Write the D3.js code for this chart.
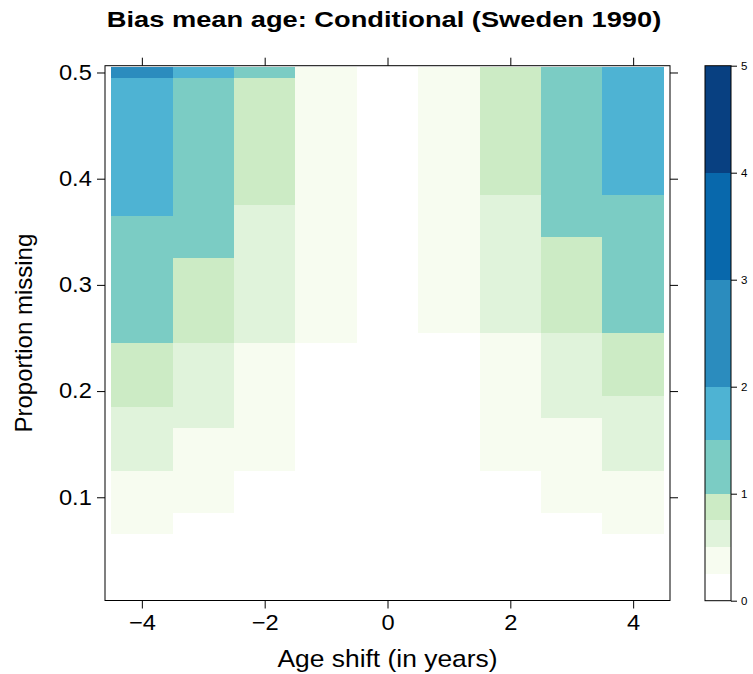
<!DOCTYPE html>
<html>
<head>
<meta charset="utf-8">
<script src="https://cdn.jsdelivr.net/npm/d3@7"></script>
<style>
  body { margin: 0; background: #fff; }
  text { font-family: "Liberation Sans", Arial, sans-serif; fill: #000; }
</style>
</head>
<body>
<div id="chart"></div>
<script>
// Age shifts (columns) and proportion missing (rows, top to bottom).
var ageShifts = [-4, -3, -2, -1, 0, 1, 2, 3, 4];
var proportions = [0.50, 0.49, 0.48, 0.47, 0.46, 0.45, 0.44, 0.43, 0.42, 0.41,
                   0.40, 0.39, 0.38, 0.37, 0.36, 0.35, 0.34, 0.33, 0.32, 0.31,
                   0.30, 0.29, 0.28, 0.27, 0.26, 0.25, 0.24, 0.23, 0.22, 0.21,
                   0.20, 0.19, 0.18, 0.17, 0.16, 0.15, 0.14, 0.13, 0.12, 0.11,
                   0.10, 0.09, 0.08, 0.07, 0.06, 0.05, 0.04, 0.03, 0.02, 0.01];

// Bias of the mean age, one array per age shift, same row order as proportions.
var biasShiftM4 = [2.06,
  1.97, 1.93, 1.89, 1.85, 1.81, 1.77, 1.73, 1.69, 1.65, 1.61, 1.58, 1.55, 1.52,
  1.47, 1.43, 1.39, 1.35, 1.31, 1.27, 1.23, 1.19, 1.15, 1.11, 1.07, 1.03,
  0.98, 0.94, 0.90, 0.86, 0.82, 0.78,
  0.73, 0.69, 0.65, 0.61, 0.57, 0.53,
  0.48, 0.44, 0.40, 0.36, 0.32, 0.28,
  0.23, 0.19, 0.15, 0.11, 0.07, 0.03];
var biasShiftM3 = [1.55,
  1.48, 1.45, 1.42, 1.39, 1.36, 1.33, 1.30, 1.27, 1.24, 1.21, 1.18, 1.15, 1.12, 1.09, 1.06, 1.04, 1.02,
  0.98, 0.95, 0.92, 0.89, 0.86, 0.83, 0.80, 0.77,
  0.73, 0.70, 0.67, 0.64, 0.61, 0.58, 0.55, 0.52,
  0.48, 0.45, 0.42, 0.39, 0.36, 0.33, 0.30, 0.27,
  0.23, 0.20, 0.17, 0.14, 0.11, 0.08, 0.05, 0.02];
var biasShiftM2 = [1.02,
  0.99, 0.97, 0.95, 0.93, 0.91, 0.89, 0.87, 0.85, 0.83, 0.81, 0.79, 0.77,
  0.74, 0.72, 0.70, 0.68, 0.66, 0.64, 0.62, 0.60, 0.58, 0.56, 0.54, 0.52, 0.51,
  0.48, 0.46, 0.44, 0.42, 0.40, 0.38, 0.36, 0.34, 0.32, 0.30, 0.28, 0.26,
  0.24, 0.22, 0.20, 0.18, 0.16, 0.14, 0.12, 0.10, 0.08, 0.06, 0.04, 0.02];
var biasShiftM1 = [0.49, 0.48, 0.47, 0.46, 0.45, 0.44, 0.43, 0.42, 0.41, 0.40,
  0.39, 0.38, 0.37, 0.36, 0.35, 0.34, 0.33, 0.32, 0.31, 0.30,
  0.29, 0.28, 0.27, 0.27, 0.26, 0.26,
  0.24, 0.23, 0.22, 0.21, 0.20, 0.19, 0.18, 0.17, 0.16, 0.15, 0.14, 0.13,
  0.12, 0.11, 0.10, 0.09, 0.08, 0.07, 0.06, 0.05, 0.04, 0.03, 0.02, 0.01];
var biasShift0 = [0.05, 0.05, 0.04, 0.04, 0.04, 0.04, 0.03, 0.03, 0.03, 0.03,
  0.03, 0.03, 0.02, 0.02, 0.02, 0.02, 0.02, 0.02, 0.02, 0.02,
  0.02, 0.01, 0.01, 0.01, 0.01, 0.01, 0.01, 0.01, 0.01, 0.01,
  0.01, 0.01, 0.01, 0.01, 0.01, 0.00, 0.00, 0.00, 0.00, 0.00,
  0.00, 0.00, 0.00, 0.00, 0.00, 0.00, 0.00, 0.00, 0.00, 0.00];
var biasShiftP1 = [0.47, 0.46, 0.45, 0.44, 0.43, 0.42, 0.41, 0.40, 0.39, 0.38,
  0.37, 0.36, 0.35, 0.34, 0.33, 0.32, 0.31, 0.30, 0.29, 0.29,
  0.28, 0.28, 0.27, 0.26, 0.26,
  0.24, 0.23, 0.22, 0.21, 0.20, 0.19, 0.18, 0.17, 0.16, 0.15, 0.14, 0.13,
  0.12, 0.11, 0.10, 0.09, 0.08, 0.07, 0.06, 0.05, 0.04, 0.03, 0.02, 0.02, 0.01];
var biasShiftP2 = [0.96, 0.94, 0.92, 0.90, 0.88, 0.86, 0.84, 0.83, 0.81, 0.79, 0.78, 0.76,
  0.74, 0.72, 0.70, 0.68, 0.66, 0.64, 0.62, 0.60, 0.58, 0.56, 0.54, 0.52, 0.51,
  0.49, 0.47, 0.45, 0.43, 0.41, 0.39, 0.37, 0.35, 0.33, 0.31, 0.29, 0.27, 0.26,
  0.24, 0.22, 0.20, 0.18, 0.16, 0.14, 0.12, 0.10, 0.08, 0.06, 0.04, 0.02];
var biasShiftP3 = [1.42, 1.39, 1.36, 1.33, 1.30, 1.27, 1.24, 1.21, 1.18, 1.15, 1.12, 1.10, 1.08, 1.06, 1.04, 1.02,
  0.98, 0.95, 0.92, 0.89, 0.86, 0.83, 0.81, 0.79, 0.77,
  0.73, 0.70, 0.67, 0.64, 0.61, 0.58, 0.55, 0.52,
  0.48, 0.45, 0.42, 0.39, 0.36, 0.33, 0.30, 0.28, 0.26,
  0.23, 0.20, 0.17, 0.14, 0.11, 0.08, 0.05, 0.02];
var biasShiftP4 = [1.88, 1.84, 1.80, 1.76, 1.72, 1.68, 1.64, 1.61, 1.58, 1.55, 1.53, 1.51,
  1.47, 1.43, 1.39, 1.35, 1.31, 1.27, 1.23, 1.19, 1.15, 1.11, 1.07, 1.04, 1.02,
  0.97, 0.93, 0.89, 0.85, 0.81, 0.77,
  0.73, 0.70, 0.66, 0.62, 0.58, 0.55, 0.52,
  0.48, 0.44, 0.40, 0.36, 0.32, 0.28,
  0.23, 0.19, 0.15, 0.11, 0.07, 0.03];

// Colour key breaks and colours.
var levelBreaks = [0, 0.25, 0.5, 0.75, 1, 1.5, 2, 3, 4, 5];
var levelColors = ['#ffffff', '#f7fcf0', '#e0f3db', '#ccebc5', '#7bccc4',
                   '#4eb3d3', '#2b8cbe', '#0868ac', '#084081'];

var xTicks = [-4, -2, 0, 2, 4];
var yTicks = [0.1, 0.2, 0.3, 0.4, 0.5];
var keyTicks = [0, 1, 2, 3, 4, 5];

var title = 'Bias mean age: Conditional (Sweden 1990)';
var xLabel = 'Age shift (in years)';
var yLabel = 'Proportion missing';

// 1. Build cells from the column arrays.
var biasColumns = [biasShiftM4, biasShiftM3, biasShiftM2, biasShiftM1, biasShift0,
                   biasShiftP1, biasShiftP2, biasShiftP3, biasShiftP4];
var cells = [];
ageShifts.forEach(function (shift, i) {
  proportions.forEach(function (p, j) {
    cells.push({x: shift, y: p, value: biasColumns[i][j]});
  });
});

// 2. Sizes.
var width = 753, height = 674;
var panel = {left: 105, right: 670, top: 65.7, bottom: 600.5};
var key = {left: 705, right: 731, top: 65.7, bottom: 600.7};
var stretch = 1.1; // horizontal text stretch seen in the original

var xScale = d3.scaleLinear().domain([-4.6, 4.6]).range([panel.left, panel.right]);
var yScale = d3.scaleLinear().domain([0.0028, 0.5064]).range([panel.bottom, panel.top]);
var keyScale = d3.scaleLinear().domain([0, 5]).range([key.bottom, key.top]);
var colorScale = d3.scaleThreshold()
  .domain(levelBreaks.slice(1, -1))
  .range(levelColors);

var svg = d3.select('#chart').append('svg')
  .attr('width', width)
  .attr('height', height);

// 3. Heat map cells.
var xStep = 1, yStep = 0.01;
svg.append('g').selectAll('rect').data(cells)
  .enter().append('rect')
  .attr('x', function (d) { return xScale(d.x - xStep / 2); })
  .attr('y', function (d) { return yScale(d.y + yStep / 2); })
  .attr('width', function (d) { return xScale(d.x + xStep / 2) - xScale(d.x - xStep / 2); })
  .attr('height', function (d) { return yScale(d.y - yStep / 2) - yScale(d.y + yStep / 2); })
  .attr('fill', function (d) { return colorScale(d.value); })
  .attr('shape-rendering', 'crispEdges');

// 4. Panel border and axes (ticks on all four sides, labels left and bottom).
svg.append('rect')
  .attr('x', panel.left).attr('y', panel.top)
  .attr('width', panel.right - panel.left).attr('height', panel.bottom - panel.top)
  .attr('fill', 'none').attr('stroke', '#000').attr('stroke-width', 1);

var tickLen = 8;
var fmtX = function (d) { return d < 0 ? '\u2212' + Math.abs(d) : String(d); };

var xAxis = d3.axisBottom(xScale).tickValues(xTicks).tickSize(tickLen).tickPadding(6).tickFormat(fmtX);
var gx = svg.append('g').attr('transform', 'translate(0,' + panel.bottom + ')').call(xAxis);
var xTop = d3.axisTop(xScale).tickValues(xTicks).tickSize(tickLen).tickFormat('');
var gxt = svg.append('g').attr('transform', 'translate(0,' + panel.top + ')').call(xTop);
var yAxis = d3.axisLeft(yScale).tickValues(yTicks).tickSize(tickLen).tickPadding(4).tickFormat(d3.format('.1f'));
var gy = svg.append('g').attr('transform', 'translate(' + panel.left + ',0)').call(yAxis);
var yRight = d3.axisRight(yScale).tickValues(yTicks).tickSize(tickLen).tickFormat('');
var gyr = svg.append('g').attr('transform', 'translate(' + panel.right + ',0)').call(yRight);

[gx, gxt, gy, gyr].forEach(function (g) {
  g.select('.domain').remove();
  g.selectAll('line').attr('stroke', '#000');
  g.selectAll('text')
    .attr('font-size', 21.5)
    .attr('font-family', '"Liberation Sans", Arial, sans-serif')
    .attr('fill', '#000')
    .attr('transform', 'scale(' + stretch + ',1)');
});

// 5. Colour key.
var keyBins = levelColors.map(function (c, i) {
  return {from: levelBreaks[i], to: levelBreaks[i + 1], color: c};
});
svg.append('g').selectAll('rect').data(keyBins)
  .enter().append('rect')
  .attr('x', key.left)
  .attr('width', key.right - key.left)
  .attr('y', function (d) { return keyScale(d.to); })
  .attr('height', function (d) { return keyScale(d.from) - keyScale(d.to); })
  .attr('fill', function (d) { return d.color; })
  .attr('shape-rendering', 'crispEdges');
svg.append('rect')
  .attr('x', key.left).attr('y', key.top)
  .attr('width', key.right - key.left).attr('height', key.bottom - key.top)
  .attr('fill', 'none').attr('stroke', '#000').attr('stroke-width', 1);
var keyAxis = d3.axisRight(keyScale).tickValues(keyTicks).tickSize(6).tickPadding(4).tickFormat(d3.format('d'));
var gk = svg.append('g').attr('transform', 'translate(' + key.right + ',0)').call(keyAxis);
gk.select('.domain').remove();
gk.selectAll('line').attr('stroke', '#000');
gk.selectAll('text').attr('font-size', 11.5).attr('font-family', '"Liberation Sans", Arial, sans-serif').attr('fill', '#000');

// 6. Titles.
svg.append('text')
  .attr('transform', 'translate(384,27)scale(1.24,1)')
  .attr('text-anchor', 'middle')
  .attr('font-size', 22)
  .attr('font-weight', 'bold')
  .text(title);
svg.append('text')
  .attr('transform', 'translate(' + (panel.left + panel.right) / 2 + ',667)scale(' + stretch + ',1)')
  .attr('text-anchor', 'middle')
  .attr('font-size', 24)
  .text(xLabel);
svg.append('text')
  .attr('transform', 'translate(32,' + (panel.top + panel.bottom) / 2 + ')rotate(-90)')
  .attr('text-anchor', 'middle')
  .attr('font-size', 24)
  .text(yLabel);
</script>
</body>
</html>
